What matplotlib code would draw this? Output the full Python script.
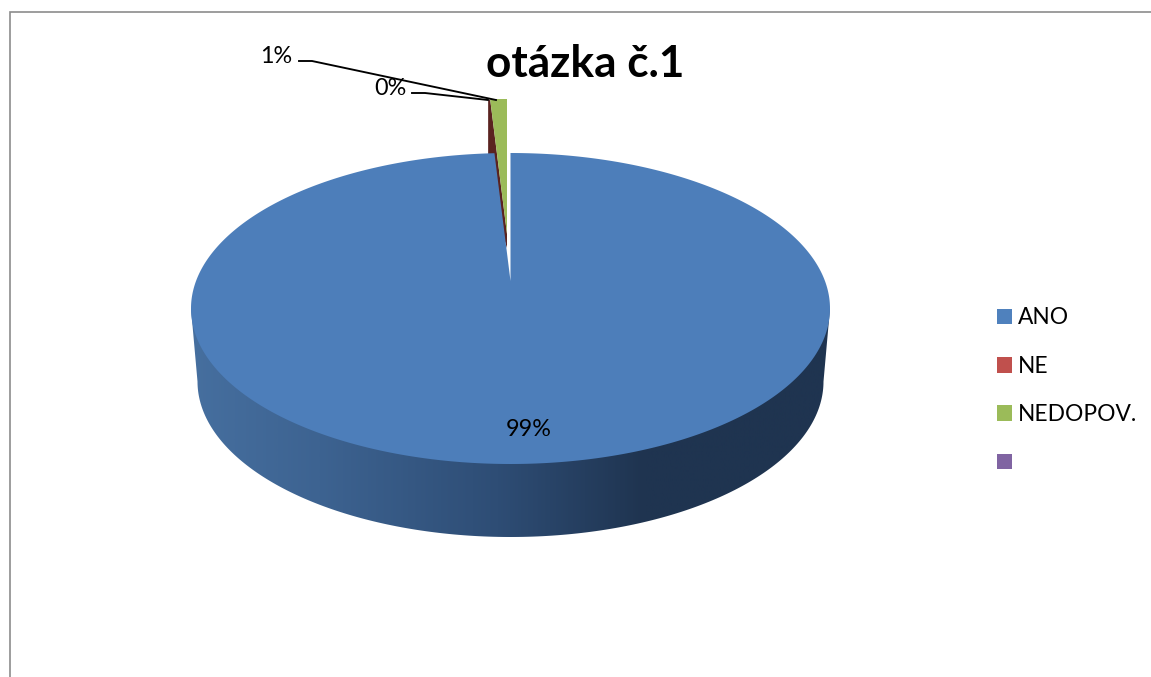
import numpy as np
import matplotlib
matplotlib.use("Agg")
import matplotlib.pyplot as plt
from matplotlib.patches import Polygon, Patch
from matplotlib.colors import LinearSegmentedColormap

title = "otázka č.1"
categories = ["ANO", "NE", "NEDOPOV.", ""]
shares = [99.2, 0.1, 0.7, 0.0]
share_labels = ["99%", "0%", "1%"]
colors = ["#4f81bd", "#c0504d", "#9bbb59", "#8064a2"]

plt.rcParams["font.family"] = ["Lato", "DejaVu Sans"]
fig = plt.figure(figsize=(11.51, 6.77), dpi=100)
ax = fig.add_axes([0, 0, 1, 1])

# pie geometry in pixels
cx, cy, rx, ry = 510.5, 308.5, 319.5, 155.5
depth, rx_bottom = 73, 313
apex = (510.5, 281)

# side wall with horizontal gradient
t = np.linspace(0, np.pi, 200)
wall_x = np.r_[cx - rx, cx + rx_bottom * np.cos(t[::-1]), cx + rx]
wall_y = np.r_[cy, cy + depth + ry * np.sin(t[::-1]), cy]
wall = Polygon(np.c_[wall_x, wall_y], closed=True, fc="none", ec="none")
ax.add_patch(wall)
cmap = LinearSegmentedColormap.from_list(
    "wall",
    [(0.0, "#466f9f"), (0.2, "#3d6391"), (0.48, "#2e4d75"), (0.71, "#1f3450"), (1.0, "#1f3450")],
)
im = ax.imshow(np.linspace(0, 1, 512)[None, :], cmap=cmap, aspect="auto",
               extent=(cx - rx, cx + rx, cy + depth + ry, cy - ry), zorder=1)
im.set_clip_path(wall)

# wedges of the exploded slices
ne_share, ned_share = shares[1], shares[2]
total = sum(shares)
g_apex = (507, 234)
g_ry = g_apex[1] - 99
g_rx = rx * 1.2
g_t = np.linspace(0, np.radians(360 * ned_share / total), 10)
green_x = np.r_[g_apex[0], g_apex[0] - g_rx * np.sin(g_t)]
green_y = np.r_[g_apex[1], g_apex[1] - g_ry * np.cos(g_t)]
top_left = (green_x[-1], green_y[-1])

# dark cut face of the small slice
ne_offset = rx * np.sin(np.radians(360 * ne_share / total))
dark = Polygon([top_left, (top_left[0] - ne_offset, 101), (top_left[0] - ne_offset, cy - ry + 2),
                (503, 235), (507, 248), g_apex], closed=True, fc="#5a2320", ec="none", zorder=2)
ax.add_patch(dark)
ax.add_patch(Polygon(np.c_[green_x, green_y], closed=True, fc=colors[2], ec="none", zorder=3))

# main slice top
a = np.linspace(0, np.radians(360 * shares[0] / total), 600)
top_x = np.r_[apex[0], cx + rx * np.sin(a)]
top_y = np.r_[apex[1], cy - ry * np.cos(a)]
ax.add_patch(Polygon(np.c_[top_x, top_y], closed=True, fc="#4d7eba", ec="none", zorder=4))

# leader lines and labels
ax.plot([299, 312, 496], [61, 61, 100], color="black", lw=1.35, zorder=6)
ax.plot([412, 425, 488], [93, 93, 100], color="black", lw=1.35, zorder=6)
label_size = 16.8
ax.text(529, 436, share_labels[0], ha="center", va="baseline", fontsize=label_size, color="black", zorder=7)
ax.text(390, 95, share_labels[1], ha="center", va="baseline", fontsize=label_size, color="black", zorder=7)
ax.text(276, 63, share_labels[2], ha="center", va="baseline", fontsize=label_size, color="black", zorder=7)

ax.text(585.5, 77, title, ha="center", va="baseline", fontsize=31.8, fontweight="bold", color="black", zorder=7)

# border
ax.plot([10, 10, 1151], [677, 12, 12], color="#8c8c8c", lw=1.2, zorder=8, solid_joinstyle="miter")

handles = [Patch(fc=c, ec="none") for c in colors]
leg = ax.legend(handles, categories, loc="upper left", bbox_to_anchor=(997 / 1151, 1 - 307.5 / 677),
                bbox_transform=fig.transFigure, frameon=False, fontsize=16.4, borderaxespad=0, borderpad=0,
                handlelength=0.66, handleheight=0.66, handletextpad=0.26, labelspacing=1.2)

ax.set_xlim(0, 1151)
ax.set_ylim(677, 0)
ax.axis("off")
fig.savefig("out.png", dpi=100, facecolor="white")
